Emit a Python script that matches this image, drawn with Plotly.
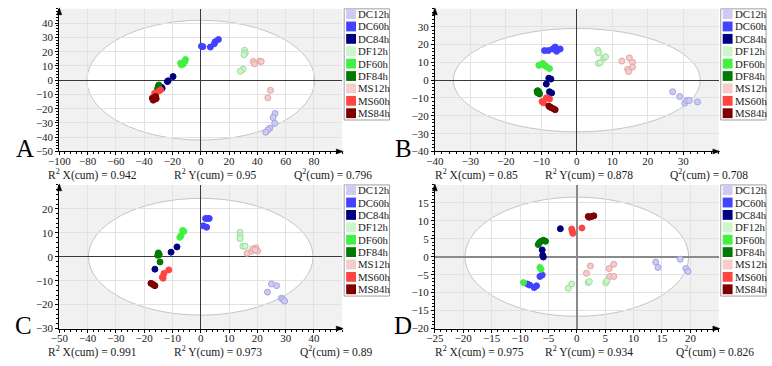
import plotly.graph_objects as go

# ---------------- data ----------------
SERIES = ["DC12h", "DC60h", "DC84h", "DF12h", "DF60h", "DF84h", "MS12h", "MS60h", "MS84h"]

A_X = {"DC12h": [52.5, 51.1, 52.3, 48.8, 47.4, 46.0],
       "DC60h": [0.5, 1.5, 6.8, 9.6, 10.2, 12.5],
       "DC84h": [-19.6, -23.1, -23.6, -27.3, -28.4, -27.8],
       "DF12h": [31.0, 31.5, 30.6, 29.9, 28.0],
       "DF60h": [-10.8, -11.2, -13.0, -14.2, -13.7, -12.5],
       "DF84h": [-29.6, -30.1, -30.5, -30.0, -29.4],
       "MS12h": [37.1, 38.0, 41.6, 42.7, 49.3, 47.4],
       "MS60h": [-28.4, -32.6, -29.5, -32.0],
       "MS84h": [-33.8, -31.9, -33.6, -32.5, -34.2, -31.5]}
A_Y = {"DC12h": [-23.4, -26.2, -30.3, -33.7, -34.9, -36.5],
       "DC60h": [23.8, 23.5, 23.2, 25.5, 27.0, 28.5],
       "DC84h": [2.5, -0.5, -1.0, -5.7, -6.2, -5.0],
       "DF12h": [20.9, 19.0, 17.9, 7.6, 6.2],
       "DF60h": [14.5, 13.2, 11.5, 12.0, 10.8, 11.2],
       "DF84h": [-3.4, -5.0, -6.2, -4.2, -5.8],
       "MS12h": [13.1, 11.5, 13.3, 13.1, -7.1, -12.4],
       "MS60h": [-6.8, -9.2, -7.6, -10.0],
       "MS84h": [-13.1, -11.5, -14.0, -12.2, -12.6, -13.0]}

B_X = {"DC12h": [27.0, 29.0, 30.4, 31.0, 31.7, 34.0],
       "DC60h": [-9.1, -8.0, -6.8, -6.1, -5.7, -4.7],
       "DC84h": [-7.9, -7.3, -8.6, -7.7, -7.1],
       "DF12h": [5.9, 6.1, 7.6, 8.1, 6.1, 6.6],
       "DF60h": [-10.7, -9.6, -9.1, -8.6, -7.7, -9.8],
       "DF84h": [-11.0, -10.8, -10.5, -11.2, -10.7, -11.1],
       "MS12h": [12.7, 14.8, 15.7, 15.7, 14.3, 14.6],
       "MS60h": [-8.6, -7.7, -9.8, -9.4],
       "MS84h": [-7.9, -7.3, -6.6, -6.1, -7.6]}
B_Y = {"DC12h": [-6.5, -9.2, -12.9, -11.4, -11.4, -12.2],
       "DC60h": [16.6, 16.6, 17.5, 18.6, 16.2, 17.5],
       "DC84h": [1.1, 0.6, -2.2, -6.5, -7.2],
       "DF12h": [16.7, 15.3, 12.5, 13.1, 9.4, 9.8],
       "DF60h": [8.3, 9.4, 8.3, 7.6, 6.5, 9.0],
       "DF84h": [-5.9, -7.2, -7.7, -6.2, -6.6, -7.0],
       "MS12h": [10.7, 12.5, 10.1, 7.3, 6.1, 4.8],
       "MS60h": [-9.9, -10.5, -12.0, -12.7],
       "MS84h": [-14.5, -15.3, -16.0, -16.6, -15.0]}

C_X = {"DC12h": [25.0, 26.8, 23.6, 28.5, 29.0, 29.6],
       "DC60h": [1.7, 2.4, 3.0, 0.9, 2.1],
       "DC84h": [-8.4, -10.5, -16.2],
       "DF12h": [13.9, 13.9, 13.9, 14.9, 15.7],
       "DF60h": [-6.4, -7.0, -7.4, -6.0],
       "DF84h": [-15.0, -14.7, -14.4, -14.8, -15.2],
       "MS12h": [16.4, 18.0, 19.5, 20.1, 18.4, 19.2],
       "MS60h": [-13.0, -13.3, -11.3, -13.6],
       "MS84h": [-17.6, -16.2, -17.0, -16.5]}
C_Y = {"DC12h": [-11.4, -12.1, -14.8, -17.3, -17.8, -18.5],
       "DC60h": [16.0, 16.0, 16.0, 12.9, 12.3],
       "DC84h": [4.1, 1.9, -5.2],
       "DF12h": [10.2, 8.8, 7.6, 4.4, 4.4],
       "DF60h": [11.0, 8.8, 8.1, 10.6],
       "DF84h": [1.6, 0.8, -2.2, 1.2, 0.6],
       "MS12h": [1.4, 2.3, 3.7, 2.3, 3.3, 2.8],
       "MS60h": [-7.0, -9.0, -5.5, -8.6],
       "MS84h": [-11.1, -12.1, -11.5, -11.9]}

D_X = {"DC12h": [13.9, 14.3, 18.2, 19.2, 19.6],
       "DC60h": [-6.1, -6.5, -8.7, -8.3, -7.5, -7.1],
       "DC84h": [-2.9, -6.1, -5.9, -6.0],
       "DF12h": [-0.9, -1.5, 2.0, 2.2, 5.1, 5.3],
       "DF60h": [-6.5, -6.3, -9.4],
       "DF84h": [-6.6, -6.3, -5.9, -5.5, -6.8],
       "MS12h": [2.4, 1.7, 5.7, 6.5, 5.8, 6.5],
       "MS60h": [-0.9, -0.8, -0.7, 0.9],
       "MS84h": [2.0, 2.2, 2.6, 3.0]}
D_Y = {"DC12h": [-1.5, -3.0, -0.7, -3.3, -4.1],
       "DC60h": [-5.1, -5.5, -7.6, -7.9, -8.6, -8.1],
       "DC84h": [7.8, 1.9, -0.1, 0.4],
       "DF12h": [-7.6, -8.8, -7.2, -6.9, -7.3, -6.7],
       "DF60h": [-3.0, -3.5, -7.2],
       "DF84h": [3.9, 4.3, 4.6, 4.3, 3.4],
       "MS12h": [-2.6, -4.6, -3.3, -2.1, -5.5, -5.5],
       "MS60h": [7.7, 7.1, 6.5, 8.0],
       "MS84h": [11.2, 11.0, 11.2, 11.4]}

PANELS = ["A", "B", "C", "D"]
DATA_X = [A_X, B_X, C_X, D_X]
DATA_Y = [A_Y, B_Y, C_Y, D_Y]

# Hotelling T2 ellipse semi-axes per panel
ELL_A = [80.5, 34.8, 39.7, 19.7]
ELL_B = [42.0, 29.0, 24.4, 16.6]

X_RANGES = [[-100, 100], [-40, 40], [-50, 50], [-25, 25]]
Y_RANGES = [[-50, 50], [-40, 40], [-30, 30], [-20, 20]]
X_TICKS = [list(range(-100, 81, 20)), list(range(-40, 31, 10)),
           list(range(-50, 41, 10)), list(range(-25, 21, 5))]
Y_TICKS = [list(range(-50, 41, 10)), list(range(-40, 31, 10)),
           list(range(-30, 21, 10)), list(range(-20, 16, 5))]

R2X = [0.942, 0.85, 0.991, 0.975]
R2Y = [0.95, 0.878, 0.973, 0.934]
Q2 = [0.796, 0.708, 0.89, 0.826]

# ---------------- styles ----------------
FILL = ["#cbcbf6", "#4242ff", "#00007f", "#cbf6cb", "#42f042", "#007a00", "#f6cbcb", "#ff4444", "#7f0000"]
EDGE = ["#a4a4e2", "#4242ff", "#00007f", "#9ddc9d", "#42f042", "#007a00", "#e2a4a4", "#ff4444", "#7f0000"]

W, H = 772, 366
FONT = "Liberation Serif"
TXT = "#1a1a1a"

# pixel boxes of plot areas (left, right, top, bottom)
BOX = [(49, 336, 9, 154), (430, 718, 9, 154), (49, 336, 188, 334), (430, 718, 188, 334)]
LEG = [(338, 9), (720, 9), (338, 188), (720, 188)]
LETTER = [(14, 151), (398, 151), (13, 331), (398, 331)]
STAT_X = [(36, 163, 285), (428, 540, 667), (36, 163, 291), (428, 540, 673)]
STAT_Y = [177, 177, 357, 357]


def px(x):
    return x / W


def py(y):
    return 1 - y / H


fig = go.Figure()
shapes = []
annotations = []
layout_axes = {}

for i, p in enumerate(PANELS):
    n = "" if i == 0 else str(i + 1)
    xa, ya = "x" + n, "y" + n
    l, r, t, b = BOX[i]
    dx = X_TICKS[i][1] - X_TICKS[i][0]
    dy = Y_TICKS[i][1] - Y_TICKS[i][0]
    zc = "#8a8a8a" if p == "D" else "#3a3a3a"
    zw = 1.5 if p == "D" else 1
    common = dict(showline=True, linecolor="#000", linewidth=1, ticks="outside", ticklen=3,
                  tickcolor="#000", tickwidth=1, showgrid=True, gridcolor="#e2e2e2", gridwidth=1,
                  zeroline=True, zerolinecolor=zc, zerolinewidth=zw,
                  tickfont=dict(family=FONT, size=11, color=TXT), fixedrange=True)
    layout_axes["xaxis" + n] = dict(domain=[px(l), px(r)], range=X_RANGES[i], tickmode="array",
                                    tickvals=X_TICKS[i], anchor=ya, ticklabelstandoff=-4,
                                    minor=dict(ticks="outside", ticklen=2, tickcolor="#000",
                                               dtick=dx / 5, tick0=0, showgrid=False), **common)
    layout_axes["yaxis" + n] = dict(domain=[py(b), py(t)], range=Y_RANGES[i], tickmode="array",
                                    tickvals=Y_TICKS[i], anchor=xa,
                                    minor=dict(ticks="outside", ticklen=2, tickcolor="#000",
                                               dtick=dy / 5, tick0=0, showgrid=False), **common)

    # ellipse
    shapes.append(dict(type="circle", xref=xa, yref=ya, x0=-ELL_A[i], x1=ELL_A[i],
                       y0=-ELL_B[i], y1=ELL_B[i], fillcolor="white",
                       line=dict(color="#c4c4c4", width=1), layer="below"))

    # points
    for k, s in enumerate(SERIES):
        fig.add_trace(go.Scatter(x=DATA_X[i][s], y=DATA_Y[i][s], xaxis=xa, yaxis=ya,
                                 mode="markers", name=s, showlegend=False,
                                 marker=dict(size=6, color=FILL[k],
                                             line=dict(color=EDGE[k], width=1))))

    # axis arrowheads
    up = "M {},{} L {},{} L {},{} Z".format(px(l), py(t - 1), px(l - 2.5), py(t + 6),
                                             px(l + 2.5), py(t + 6))
    rt = "M {},{} L {},{} L {},{} Z".format(px(r + 1), py(b), px(r - 6), py(b - 2.5),
                                             px(r - 6), py(b + 2.5))
    for path in (up, rt):
        shapes.append(dict(type="path", xref="paper", yref="paper", path=path,
                           fillcolor="#000", line=dict(color="#000", width=0.5), layer="above"))

    # panel letter
    lx, ly = LETTER[i]
    annotations.append(dict(xref="paper", yref="paper", x=px(lx), y=py(ly), text=p,
                            showarrow=False, xanchor="center", yanchor="middle",
                            font=dict(family=FONT, size=25, color="#000")))

    # statistics
    sx = STAT_X[i]
    sy = STAT_Y[i]
    texts = ["R<sup>2</sup> X(cum) = " + str(R2X[i]),
             "R<sup>2</sup> Y(cum) = " + str(R2Y[i]),
             "Q<sup>2</sup>(cum) = " + str(Q2[i])]
    for xx, tt in zip(sx, texts):
        annotations.append(dict(xref="paper", yref="paper", x=px(xx), y=py(sy), text=tt,
                                showarrow=False, xanchor="left", yanchor="middle",
                                font=dict(family=FONT, size=11.5, color=TXT)))

    # legend (drawn manually to match compact spacing)
    gx, gy = LEG[i]
    shapes.append(dict(type="rect", xref="paper", yref="paper", x0=px(gx), x1=px(gx + 46),
                       y0=py(gy + 113), y1=py(gy), fillcolor="white",
                       line=dict(color="#a0a0a0", width=1), layer="above"))
    for k, s in enumerate(SERIES):
        cy = gy + 5.3 + 12.6 * k
        shapes.append(dict(type="rect", xref="paper", yref="paper", x0=px(gx + 2), x1=px(gx + 12),
                           y0=py(cy + 5), y1=py(cy - 5), fillcolor=FILL[k],
                           line=dict(width=0), layer="above"))
        annotations.append(dict(xref="paper", yref="paper", x=px(gx + 13), y=py(cy), text=s,
                                showarrow=False, xanchor="left", yanchor="middle", borderpad=0,
                                font=dict(family=FONT, size=10.8, color=TXT)))

fig.update_layout(width=W, height=H, margin=dict(l=0, r=0, t=0, b=0, pad=0),
                  paper_bgcolor="white", plot_bgcolor="#f1f1f1",
                  shapes=shapes, annotations=annotations, showlegend=False,
                  font=dict(family=FONT, color=TXT), **layout_axes)

fig.write_html("out.html", config={"displayModeBar": False})
